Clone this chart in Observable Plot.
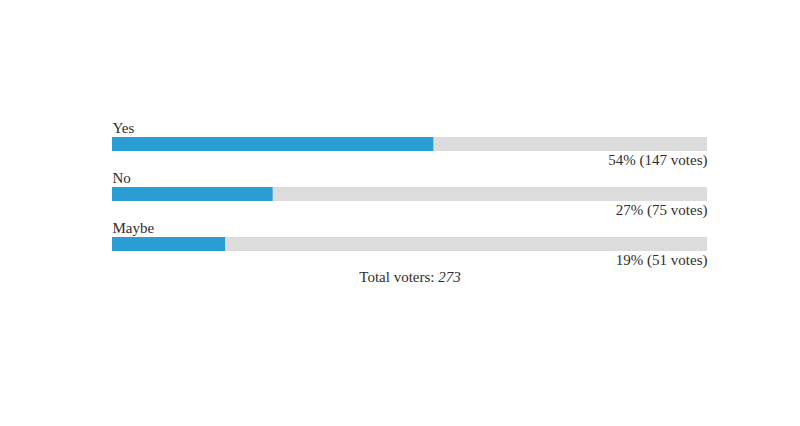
<!DOCTYPE html>
<html>
<head>
<meta charset="utf-8">
<script src="https://cdn.jsdelivr.net/npm/d3@7"></script>
<script src="https://cdn.jsdelivr.net/npm/@observablehq/plot@0.6"></script>
<style>
  html, body { margin: 0; padding: 0; background: #fff; }
  #chart svg { display: block; }
</style>
</head>
<body>
<div id="chart"></div>
<script>
const categories = ["Yes", "No", "Maybe"];
const votes = [147, 75, 51];
const percents = [54, 27, 19];
const totalVoters = 273;

const rows = categories.map((c, i) => ({
  option: c,
  votes: votes[i],
  share: percents[i],
  label: `${percents[i]}% (${votes[i]} votes)`
}));

const font = "'Liberation Serif', 'DejaVu Serif', serif";
const textColor = "#2e2e2e";

const chart = Plot.plot({
  width: 800,
  height: 426,
  marginLeft: 112,
  marginRight: 93,
  marginTop: 119,
  marginBottom: 157,
  style: { fontFamily: font, background: "#fff" },
  x: { domain: [0, 100], axis: null },
  y: { type: "band", domain: categories, padding: 0, axis: null },
  marks: [
    Plot.barX(rows, { y: "option", x1: 0, x2: 100, fill: "#dcdcdc", insetTop: 18, insetBottom: 18 }),
    Plot.barX(rows, { y: "option", x1: 0, x2: "share", fill: "#2a9dd3", insetTop: 18, insetBottom: 18 }),
    Plot.text(rows, { y: "option", x: 0, text: "option", textAnchor: "start", lineAnchor: "bottom", dy: -12, fontSize: 15, fill: textColor }),
    Plot.text(rows, { y: "option", x: 100, text: "label", textAnchor: "end", lineAnchor: "bottom", dy: 20, fontSize: 15, fill: textColor }),
    Plot.text([{ option: categories[categories.length - 1], t: `Total voters: ${totalVoters}` }], {
      y: "option", x: 50, text: "t", textAnchor: "middle", lineAnchor: "bottom", dy: 37, fontSize: 15, fill: textColor, className: "total"
    })
  ]
});

document.getElementById("chart").appendChild(chart);

// Italicise the number in the total line
d3.select(chart).selectAll("g.total text").each(function () {
  const t = d3.select(this);
  t.text(null);
  t.append("tspan").text("Total voters: ");
  t.append("tspan").attr("font-style", "italic").text(String(totalVoters));
});
</script>
</body>
</html>
